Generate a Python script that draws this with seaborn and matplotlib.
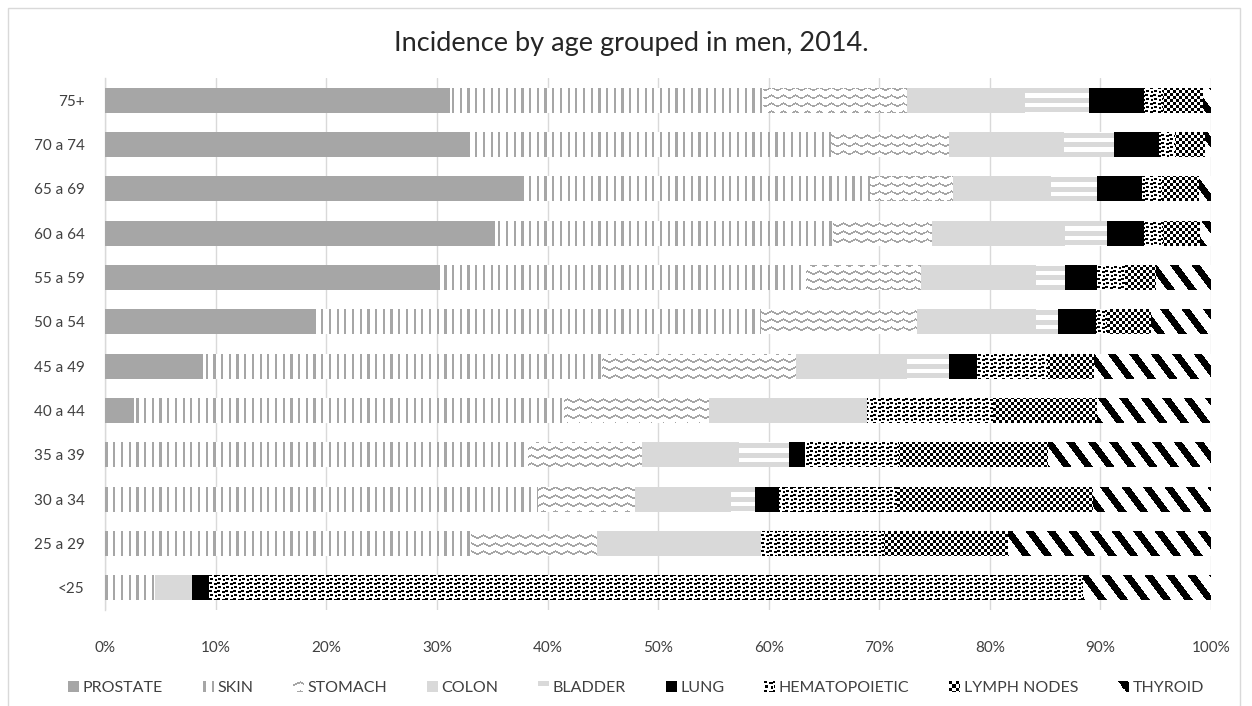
import numpy as np
import pandas as pd
import matplotlib
matplotlib.use("Agg")
import matplotlib.pyplot as plt
import seaborn as sns
from matplotlib.path import Path
from matplotlib.patches import Patch, Rectangle
from matplotlib.image import BboxImage
from matplotlib.transforms import Bbox, TransformedBbox
from matplotlib.legend_handler import HandlerBase

# ---- data: share of new cases (%) by age group, men, 2014 ----
ages = ["75+", "70 a 74", "65 a 69", "60 a 64", "55 a 59", "50 a 54",
        "45 a 49", "40 a 44", "35 a 39", "30 a 34", "25 a 29", "<25"]
cancers = ["PROSTATE", "SKIN", "STOMACH", "COLON", "BLADDER", "LUNG",
           "HEMATOPOIETIC", "LYMPH NODES", "THYROID"]

prostate = [31.2, 33.0, 37.9, 35.2, 30.3, 19.0, 8.8, 2.6, 0, 0, 0, 0]
skin = [28.3, 32.6, 31.3, 30.6, 33.1, 40.3, 36.1, 38.9, 38.2, 39.1, 33.1, 4.5]
stomach = [13.0, 10.7, 7.5, 9.0, 10.4, 14.1, 17.6, 13.1, 10.3, 8.8, 11.4, 0]
colon = [10.7, 10.4, 8.8, 12.0, 10.4, 10.8, 10.0, 14.3, 8.8, 8.7, 14.8, 3.3]
bladder = [5.8, 4.5, 4.2, 3.8, 2.6, 2.0, 3.8, 0, 4.5, 2.2, 0, 0]
lung = [4.9, 4.1, 4.1, 3.3, 2.9, 3.4, 2.5, 0, 1.5, 2.1, 0, 1.6]
hematopoietic = [1.8, 1.4, 1.8, 1.8, 2.5, 1.0, 6.5, 11.4, 8.5, 10.7, 11.1, 79.0]
lymph_nodes = [3.6, 2.8, 3.3, 3.3, 2.8, 4.0, 4.1, 9.4, 13.5, 17.7, 11.2, 0]
thyroid = [0.7, 0.5, 1.1, 1.0, 5.0, 5.4, 10.6, 10.3, 14.7, 10.7, 18.4, 11.6]

series = [prostate, skin, stomach, colon, bladder, lung,
          hematopoietic, lymph_nodes, thyroid]

df = pd.DataFrame({"age": np.repeat(ages, len(cancers)),
                   "cancer": cancers * len(ages),
                   "share": [series[j][i] for i in range(len(ages))
                             for j in range(len(cancers))]})
df["cancer"] = pd.Categorical(df["cancer"], categories=cancers, ordered=True)
df = df.sort_values(["age", "cancer"])
df["cum"] = df.groupby("age", sort=False)["share"].cumsum()

# ---- style ----
sns.set_style("white")
plt.rcParams["font.family"] = ["Lato", "DejaVu Sans"]
TEXT = "#404040"
GRID = "#d9d9d9"

FW, FH = 1252, 706
fig = plt.figure(figsize=(FW / 100, FH / 100), dpi=100)
AX_L, AX_R, AX_T, AX_B = 105.3, 1211.0, 78.0, 610.0
ax = fig.add_axes([AX_L / FW, 1 - AX_B / FH, (AX_R - AX_L) / FW, (AX_B - AX_T) / FH])

BAR_W = 0.56
W = int(round(AX_R - AX_L))
H = int(round(AX_B - AX_T))
rr, cc = np.mgrid[0:H, 0:W].astype(float)
row_h = H / len(ages)
local_r = rr - (np.floor(rr / row_h) * row_h + (row_h - BAR_W * row_h) / 2)


def hex_rgb(h):
    h = h.lstrip("#")
    return np.array([int(h[i:i + 2], 16) / 255 for i in (0, 2, 4)])


def texture(mask, fg):
    arr = np.ones(mask.shape + (3,))
    arr[mask] = hex_rgb(fg)
    return arr


confetti = np.array([
    [1, 1, 1, 0, 0, 0, 0, 0],
    [1, 1, 1, 0, 0, 1, 1, 1],
    [0, 0, 0, 0, 0, 1, 1, 1],
    [0, 0, 0, 0, 0, 0, 0, 0],
    [0, 1, 1, 1, 0, 0, 0, 0],
    [0, 1, 1, 1, 0, 0, 1, 1],
    [0, 0, 0, 0, 0, 0, 1, 1],
    [0, 0, 0, 0, 0, 0, 0, 0],
], dtype=bool)


def pattern_mask(kind, r, c, lr):
    if kind == "vlines":
        return (c % 7.7) < 2.2
    if kind == "wave":
        tri = 3 * np.abs(((c / 12.0) % 1) * 2 - 1)
        return ((r - tri) % 8) < 1.6
    if kind == "hstripes":
        return (lr % 9.6) < 5
    if kind == "confetti":
        return confetti[r.astype(int) % 8, c.astype(int) % 8]
    if kind == "checker":
        return ((r // 3 + c // 3) % 2) == 0
    if kind == "diag":
        return ((c - 0.75 * r) % 21.5) < 8.5
    return None


# face colour, pattern kind, pattern colour
styles = {
    "PROSTATE": ("#a6a6a6", None, None),
    "SKIN": ("#ffffff", "vlines", "#a6a6a6"),
    "STOMACH": ("#ffffff", "wave", "#a6a6a6"),
    "COLON": ("#d9d9d9", None, None),
    "BLADDER": ("#ffffff", "hstripes", "#d9d9d9"),
    "LUNG": ("#000000", None, None),
    "HEMATOPOIETIC": ("#ffffff", "confetti", "#000000"),
    "LYMPH NODES": ("#ffffff", "checker", "#000000"),
    "THYROID": ("#ffffff", "diag", "#000000"),
}

n = len(ages)
ylim = (n - 0.5, -0.5)

# Stacked bars: each cumulative total drawn over the next, last segment first
for k, name in enumerate(reversed(cancers)):
    face, kind, fg = styles[name]
    sub = df[df["cancer"] == name]
    before = len(ax.patches)
    sns.barplot(data=sub, x="cum", y="age", order=ages, orient="h",
                color=face, saturation=1, width=BAR_W, linewidth=0,
                errorbar=None, ax=ax, zorder=2 + k)
    new = ax.patches[before:]
    if kind is not None:
        tex = texture(pattern_mask(kind, rr, cc, local_r), fg)
        paths = [p.get_path().transformed(p.get_patch_transform()) for p in new]
        clip = Path.make_compound_path(*paths)
        im = ax.imshow(tex, extent=(0, 100, ylim[0], ylim[1]), origin="upper",
                       aspect="auto", interpolation="nearest", zorder=2 + k + 0.5)
        im.set_clip_path(clip, ax.transData)

ax.set_xlim(0, 100)
ax.set_ylim(*ylim)
ax.set_xticks(np.arange(0, 101, 10))
ax.set_xticklabels([f"{v}%" for v in range(0, 101, 10)])
ax.set_xlabel("")
ax.set_ylabel("")
ax.tick_params(axis="x", length=0, pad=22, labelsize=11, labelcolor=TEXT)
ax.tick_params(axis="y", length=0, pad=15, labelsize=11, labelcolor=TEXT)
ax.xaxis.grid(True, color=GRID, linewidth=1)
ax.yaxis.grid(False)
ax.set_axisbelow(True)
for side in ["top", "right", "bottom"]:
    ax.spines[side].set_visible(False)
ax.spines["left"].set_color(GRID)
ax.spines["left"].set_linewidth(1)
ax.spines["left"].set_zorder(1)

fig.text(0.504, 1 - 43 / FH, "Incidence by age grouped in men, 2014.",
         ha="center", va="center", fontsize=19.5, color="#262626")


# ---- legend with pattern swatches ----
class SwatchHandler(HandlerBase):
    def __init__(self, tile):
        super().__init__()
        self.tile = tile

    def create_artists(self, legend, orig_handle, xdescent, ydescent,
                       width, height, fontsize, trans):
        bb = TransformedBbox(Bbox.from_bounds(-xdescent, -ydescent + (height - width) / 2,
                                              width, width), trans)
        im = BboxImage(bb, interpolation="nearest")
        im.set_data(self.tile)
        return [im]


handles, hmap = [], {}
tr, tc = np.mgrid[0:10, 0:10].astype(float)
for name in cancers:
    face, kind, fg = styles[name]
    if kind is None:
        tile = np.ones((10, 10, 3)) * hex_rgb(face)
    else:
        tile = texture(pattern_mask(kind, tr, tc, tr), fg)
    h = Patch(facecolor=face, label=name)
    handles.append(h)
    hmap[h] = SwatchHandler(tile)

fig.legend(handles=handles, handler_map=hmap, loc="center",
           bbox_to_anchor=(0.508, 18 / FH), ncol=len(cancers), frameon=False,
           fontsize=11.5, handlelength=0.65, handleheight=0.65, handletextpad=0.25,
           columnspacing=2.5, labelcolor=TEXT)

fig.patches.append(Rectangle((8 / FW, -0.01), (1240 - 8) / FW, 1 - 8 / FH + 0.01,
                             transform=fig.transFigure, fill=False,
                             edgecolor=GRID, linewidth=1))

fig.savefig("out.png", dpi=100)
